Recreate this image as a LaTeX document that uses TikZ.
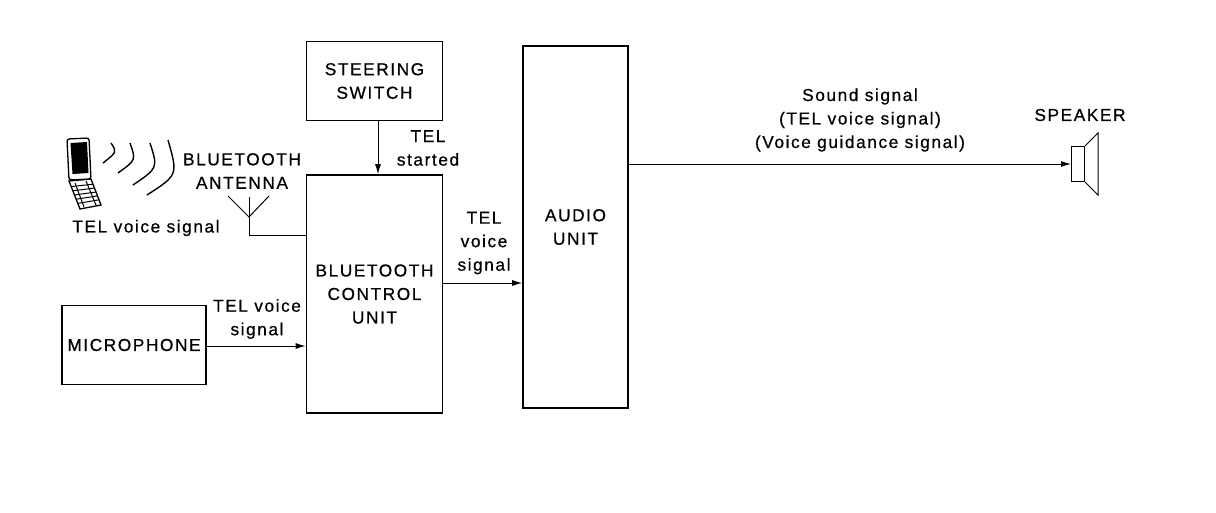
\documentclass[tikz,border=0pt]{standalone}
\usepackage{fontspec}
\setmainfont{Liberation Sans}[LetterSpace=9, FakeBold=0.6]
\usetikzlibrary{arrows.meta, calc}

\begin{document}
\begin{tikzpicture}[x=1pt, y=-1pt,
  unit/.style={draw, line width=1.6pt, inner sep=0pt, align=center},
  lbl/.style={align=center, inner sep=0pt},
  sig/.style={line width=1pt, -{Latex[length=10pt,width=6pt]}},
  font=\fontsize{17.3}{23.5}\selectfont]
\useasboundingbox (0,0) rectangle (1216,512);
% blocks
\node[unit, minimum width=136pt, minimum height=79pt] (steer) at (374.5,81) {STEERING\\SWITCH};
\node[unit, minimum width=136pt, minimum height=238pt] (btcu) at (374.5,294) {BLUETOOTH\\CONTROL\\UNIT};
\node[unit, minimum width=105pt, minimum height=362pt] (audio) at (575.5,227) {AUDIO\\UNIT};
\node[unit, minimum width=144pt, minimum height=79pt] (mic) at (134,345) {MICROPHONE};
\node[draw, line width=1pt, minimum width=13pt, minimum height=35pt, inner sep=0pt] (spk) at (1078,164) {};
% speaker cone
\draw[line width=1pt] (spk.north east) -- (1098,133) -- (1098,195) -- (spk.south east);
% signals
\draw[sig] ([xshift=3.5pt]steer.south) -- ([xshift=3.5pt]btcu.north);
\draw[sig] ([yshift=11pt]btcu.east) coordinate (tel) -- (tel -| audio.west);
\draw[sig] ([yshift=-1pt]mic.east) coordinate (mv) -- (mv -| btcu.west);
\draw[sig] (audio.east |- spk.west) -- (spk.west);
% antenna
\coordinate (ant) at (249,235);
\coordinate (anttop) at (249,197);
\draw[line width=1pt] (btcu.west |- ant) -- (ant) -- (anttop);
\draw[line width=1pt] (228,196) -- (249,217) -- (269,196);
% phone
\draw[line width=1.3pt, rounded corners=2.5pt] (67,139) -- (89,138) -- (91,179) -- (69,180) -- cycle;
\fill (70.5,143) -- (87,142) -- (88.5,173) -- (72.5,174) -- cycle;
\draw[line width=1.3pt] (69,181) -- (91,179) -- (101,205) -- (80,209) -- cycle;
\foreach \t in {0.2,0.35,0.5,0.65,0.8}
  \draw[line width=1pt] ($(69,181)!\t!(80,209)$) -- ($(91,179)!\t!(101,205)$);
\draw[line width=1pt] (75,183) -- (84,207) (86,181) -- (96,205);
% waves
\draw[line width=1.4pt] (111,143) .. controls (117,152) .. (103,163);
\draw[line width=1.4pt] (130,143) .. controls (136,160) .. (118,173);
\draw[line width=1.4pt] (150,143) .. controls (158,168) .. (133,185);
\draw[line width=1.4pt] (168,140) .. controls (178,175) .. (147,195);
% labels
\node[lbl] (antlbl) at (242,171) {BLUETOOTH\\ANTENNA};
\node[lbl] (phonelbl) at (146,228) {TEL voice signal};
\node[lbl] (startlbl) at (428,148) {TEL\\started};
\node[lbl] (tellbl) at (484,243) {TEL\\voice\\signal};
\node[lbl] (miclbl) at (257,319) {TEL voice\\signal};
\node[lbl] (soundlbl) at (860,120) {Sound signal\\(TEL voice signal)\\(Voice guidance signal)};
\node[lbl] (spklbl) at (1080,115) {SPEAKER};
\end{tikzpicture}
\end{document}
